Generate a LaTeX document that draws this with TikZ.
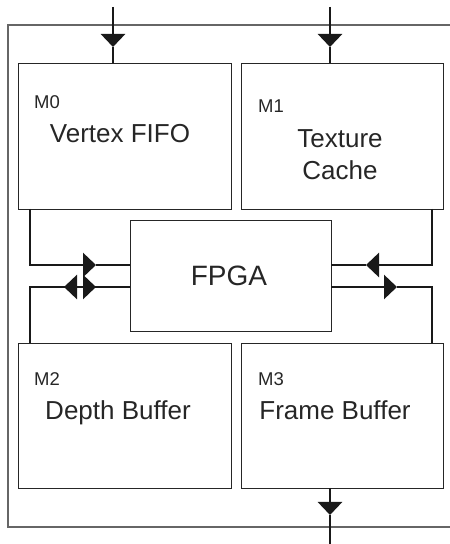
\documentclass[tikz,border=0pt]{standalone}
\usepackage{fontspec}
\setmainfont{Liberation Sans}
\usetikzlibrary{arrows.meta,calc}
\begin{document}
\begin{tikzpicture}[x=1pt,y=1pt,
  box/.style={draw=black!85,line width=0.9pt,rectangle,anchor=north west,inner sep=0pt,outer sep=0pt},
  conn/.style={line width=2.8pt,black!90},
  tri/.style={-{Triangle[width=24pt,length=13pt]}},
  lab/.style={anchor=base west,inner sep=0pt,font=\fontsize{18.5}{18.5}\selectfont,text=black!85},
  big/.style={anchor=base,inner sep=0pt,font=\fontsize{26}{26}\selectfont,text=black!85},
  frame/.style={draw=black!60,line width=1.1pt}]
\useasboundingbox (0,0) rectangle (450,544);
% outer frame (open on the right)
\draw[frame] (450,519) -- (8,519) -- (8,17) -- (450,17);
% boxes
\node[box,minimum width=213pt,minimum height=146pt] (M0) at (18,481) {};
\node[box,minimum width=202pt,minimum height=146pt] (M1) at (241,481) {};
\node[box,minimum width=201pt,minimum height=111pt] (F) at (130,324) {};
\node[box,minimum width=213pt,minimum height=145pt] (M2) at (18,201) {};
\node[box,minimum width=202pt,minimum height=145pt] (M3) at (241,201) {};
% texts
\node[lab] (t0) at (34,435) {M0};
\node[big] (v0) at (120,401) {Vertex FIFO};
\node[lab] (t1) at (258,431) {M1};
\node[big] (v1a) at (340,396) {Texture};
\node[big] (v1b) at (340,364) {Cache};
\node[big,font=\fontsize{28}{28}\selectfont] (vf) at (229,258) {FPGA};
\node[lab] (t2) at (34,158) {M2};
\node[big] (v2) at (118,124) {Depth Buffer};
\node[lab] (t3) at (258,158) {M3};
\node[big] (v3) at (335,124) {Frame Buffer};
% coordinates
\coordinate (in0) at (113,537);
\coordinate (tip0) at (113,497);
\coordinate (in1) at (330,537);
\coordinate (tip1) at (330,497);
\coordinate (out3) at (330,0);
\coordinate (tip3) at (330,29);
\coordinate (L) at (30,0);
\coordinate (R) at (432,0);
\coordinate (tipA) at (96,279);
\coordinate (tipB) at (96,257);
\coordinate (tipC) at (64,257);
\coordinate (tipD) at (366,279);
\coordinate (tipE) at (397,257);
% top inputs
\draw[conn,tri] (in0) -- (tip0);
\draw[conn] (tip0) -- (tip0 |- M0.north);
\draw[conn,tri] (in1) -- (tip1);
\draw[conn] (tip1) -- (tip1 |- M1.north);
% bottom output
\draw[conn,tri] (tip3 |- M3.south) -- (tip3);
\draw[conn] (tip3) -- (out3);
% left side
\draw[conn,tri] (L |- M0.south) |- (tipA);
\draw[conn] (tipA) -- (tipA -| F.west);
\draw[conn,tri] (tipB -| F.west) -- (tipC);
\draw[conn] (tipC) -| (L |- M2.north);
\draw[conn,tri] (tipC) -- (tipB);
% right side
\draw[conn,tri] (R |- M1.south) |- (tipD);
\draw[conn] (tipD) -- (tipD -| F.east);
\draw[conn,tri] (tipE -| F.east) -- (tipE);
\draw[conn] (tipE) -| (R |- M3.north);
\end{tikzpicture}
\end{document}
